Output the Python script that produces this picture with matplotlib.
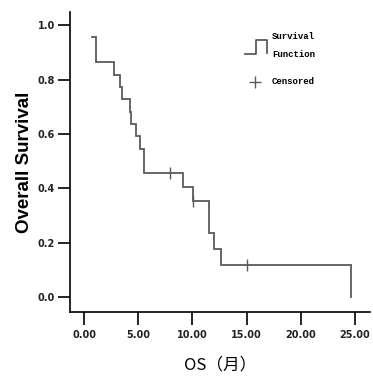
import matplotlib
matplotlib.use('Agg')
from matplotlib import pyplot as plt

# step points (time in months, survival)
step_times = [0.74, 1.1, 2.8, 3.3, 3.5, 4.24, 4.37, 4.8, 5.2, 5.5,
              9.1, 10.1, 11.56, 12.0, 12.64, 24.66]
step_surv = [0.955, 0.864, 0.818, 0.773, 0.727, 0.682, 0.636, 0.591, 0.545, 0.455,
             0.404, 0.354, 0.236, 0.177, 0.118, 0.0]
cens_times = [7.9, 10.1, 15.0]
cens_surv = [0.455, 0.354, 0.118]

xticks = [0, 5, 10, 15, 20, 25]
xlabels = ['0.00', '5.00', '10.00', '15.00', '20.00', '25.00']
yticks = [0.0, 0.2, 0.4, 0.6, 0.8, 1.0]
ylabels = ['0.0', '0.2', '0.4', '0.6', '0.8', '1.0']

plt.rcParams['font.family'] = ['DejaVu Sans', 'Noto Sans CJK SC']
fig = plt.figure(figsize=(3.73, 3.77), dpi=100)
ax = fig.add_axes([0.188, 0.172, 0.804, 0.796])

col = '#5a5a5a'
# build step path: horizontal then vertical
xs = [step_times[0]]
ys = [step_surv[0]]
for i in range(1, len(step_times)):
    xs += [step_times[i], step_times[i]]
    ys += [step_surv[i-1], step_surv[i]]
ax.plot(xs, ys, color=col, lw=1.3, solid_joinstyle='miter')
ax.plot(cens_times, cens_surv, ls='none', marker='|', ms=8, mew=1.0, color=col)

ax.set_xlim(-1.29, 26.4)
ax.set_ylim(-0.055, 1.048)
ax.set_xticks(xticks)
ax.set_xticklabels(xlabels)
ax.set_yticks(yticks)
ax.set_yticklabels(ylabels)
for s in ['top', 'right']:
    ax.spines[s].set_visible(False)
for s in ['left', 'bottom']:
    ax.spines[s].set_linewidth(1.2)
ax.tick_params(axis='both', length=9, width=1.2, labelsize=7, direction='out',
               labelcolor='#222222')
ax.tick_params(axis='x', pad=4)
ax.tick_params(axis='y', pad=2)
for lab in ax.get_xticklabels() + ax.get_yticklabels():
    lab.set_fontweight('bold')

ax.set_ylabel('Overall Survival', fontsize=13.5, fontweight='bold',
              family='Liberation Sans', labelpad=3)
ax.set_xlabel('OS（月）', fontsize=12, fontweight='medium',
              family=['Noto Sans CJK SC', 'DejaVu Sans'], labelpad=12)

# legend drawn by hand
t = ax.transAxes
ax.plot([0.583, 0.62, 0.62, 0.655, 0.655], [0.86, 0.86, 0.907, 0.907, 0.865],
        color=col, lw=1.3, transform=t, clip_on=False)
lf = dict(fontsize=6.5, fontweight='bold', family='Liberation Mono',
          transform=t, va='center')
ax.text(0.673, 0.917, 'Survival', **lf)
ax.text(0.673, 0.857, 'Function', **lf)
ax.plot([0.617], [0.767], marker='+', ms=9, mew=1.0, color=col, transform=t, clip_on=False)
ax.text(0.673, 0.767, 'Censored', **lf)

fig.savefig('out.png', dpi=100)
